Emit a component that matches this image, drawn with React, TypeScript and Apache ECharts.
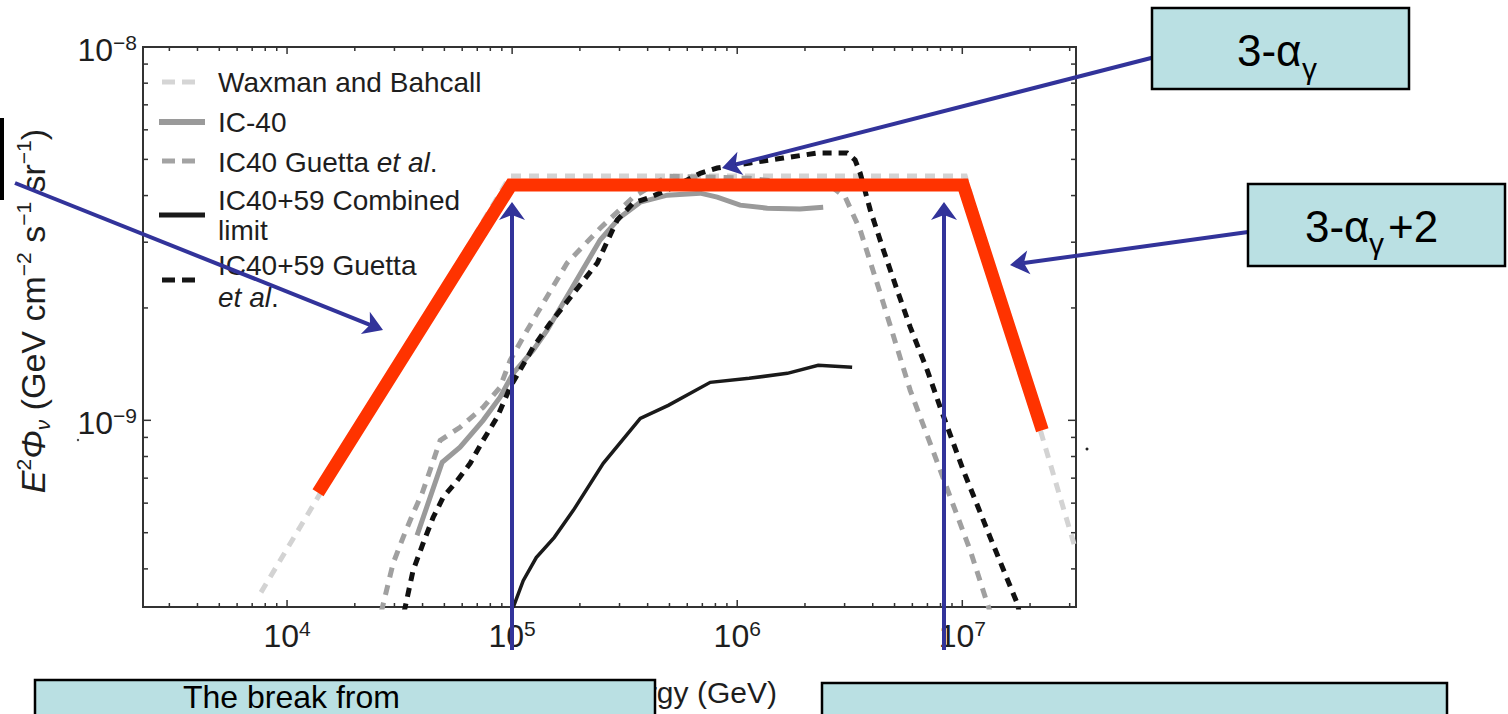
import React, { useEffect, useRef } from "react";
import * as echarts from "echarts";

const FONT = "'Liberation Sans', Arial, Helvetica, sans-serif";

// Axis extents (log scales)
const X_MIN = 2291;
const X_MAX = 3.2e7;
const Y_MIN = 3.162e-10;
const Y_MAX = 1e-8;

// Tick positions
const xMajorTicks = [1e4, 1e5, 1e6, 1e7];
const xMinorTicks = [
  3e3, 4e3, 5e3, 6e3, 7e3, 8e3, 9e3,
  2e4, 3e4, 4e4, 5e4, 6e4, 7e4, 8e4, 9e4,
  2e5, 3e5, 4e5, 5e5, 6e5, 7e5, 8e5, 9e5,
  2e6, 3e6, 4e6, 5e6, 6e6, 7e6, 8e6, 9e6,
  2e7, 3e7,
];
const yMajorTicks = [1e-9, 1e-8];
const yMinorTicks = [
  4e-10, 5e-10, 6e-10, 7e-10, 8e-10, 9e-10,
  2e-9, 3e-9, 4e-9, 5e-9, 6e-9, 7e-9, 8e-9, 9e-9,
];

// E^2 flux curves: [energy (GeV), E^2 Phi (GeV cm^-2 s^-1 sr^-1)]
const waxmanBahcall: [number, number][] = [
  [7660, 3.46e-10], [9.8e4, 4.51e-9], [1.03e7, 4.51e-9], [3.2e7, 4.47e-10],
];

const ic40Limit: [number, number][] = [
  [3.78e4, 4.92e-10], [4.89e4, 7.72e-10], [5.87e4, 8.47e-10], [7.43e4, 1.0e-9],
  [8.84e4, 1.153e-9], [1.01e5, 1.336e-9], [1.24e5, 1.541e-9], [1.431e5, 1.743e-9],
  [2.46e5, 3.04e-9], [3.02e5, 3.5e-9], [3.71e5, 3.84e-9], [4.89e5, 4.01e-9],
  [6.85e5, 4.06e-9], [8.15e5, 3.96e-9], [1.03e6, 3.77e-9], [1.36e6, 3.7e-9],
  [1.9e6, 3.68e-9], [2.41e6, 3.72e-9],
];

const ic40Guetta: [number, number][] = [
  [2.62e4, 3.06e-10], [2.96e4, 4.14e-10], [3.28e4, 4.86e-10], [3.63e4, 5.63e-10],
  [3.98e4, 6.37e-10], [4.32e4, 7.35e-10], [4.79e4, 8.84e-10], [5.87e4, 9.58e-10],
  [7.43e4, 1.083e-9], [8.84e4, 1.226e-9], [9.8e4, 1.448e-9], [1.166e5, 1.743e-9],
  [1.755e5, 2.64e-9], [2.46e5, 3.27e-9], [3.45e5, 3.96e-9], [4.89e5, 4.51e-9],
  [1.14e6, 4.45e-9], [2.67e6, 4.19e-9], [3.02e6, 3.96e-9], [3.52e6, 3.23e-9],
  [4.32e6, 2.19e-9], [5.87e6, 1.203e-9], [7.98e6, 7.35e-10], [1.085e7, 4.48e-10],
  [1.33e7, 3.06e-10],
];

const ic4059Guetta: [number, number][] = [
  [3.31e4, 3.06e-10], [3.63e4, 3.96e-10], [4.02e4, 4.68e-10], [4.46e4, 5.5e-10],
  [4.94e4, 6.22e-10], [5.7e4, 6.9e-10], [6.51e4, 7.67e-10], [7.43e4, 8.84e-10],
  [8.58e4, 1.019e-9], [9.8e4, 1.226e-9], [1.24e5, 1.569e-9], [1.475e5, 1.82e-9],
  [2.39e5, 2.64e-9], [2.93e5, 3.44e-9], [3.45e5, 3.82e-9], [4.11e5, 3.96e-9],
  [5.19e5, 4.21e-9], [6.85e5, 4.59e-9], [8.15e5, 4.74e-9], [1.14e6, 4.89e-9],
  [1.6e6, 5.04e-9], [2.27e6, 5.2e-9], [3.08e6, 5.2e-9], [3.34e6, 4.98e-9],
  [3.52e6, 4.59e-9], [3.9e6, 3.66e-9], [4.46e6, 2.86e-9], [5.14e6, 2.23e-9],
  [5.87e6, 1.776e-9], [6.99e6, 1.361e-9], [7.98e6, 1.083e-9], [1.01e7, 7.35e-10],
  [1.33e7, 4.86e-10], [1.755e7, 3.23e-10], [1.79e7, 3.06e-10],
];

const ic4059Combined: [number, number][] = [
  [1.01e5, 3.15e-10], [1.12e5, 3.72e-10], [1.28e5, 4.29e-10], [1.54e5, 4.86e-10],
  [1.87e5, 5.74e-10], [2.54e5, 7.67e-10], [3.71e5, 1.012e-9], [4.94e5, 1.097e-9],
  [7.59e5, 1.264e-9], [1.13e6, 1.296e-9], [1.67e6, 1.336e-9], [2.29e6, 1.404e-9],
  [3.24e6, 1.387e-9],
];

// Broken power-law sketch: rising, flat, steep fall
const brokenPowerLaw: [number, number][] = [
  [1.373e4, 6.4e-10], [9.9e4, 4.27e-9], [1.01e7, 4.27e-9], [2.267e7, 9.4e-10],
];

const isDecade = (v: number) => {
  const e = Math.log10(v);
  return Math.abs(e - Math.round(e)) < 1e-6;
};

const expLabel = (v: number) => {
  if (!isDecade(v)) return "";
  const e = Math.round(Math.log10(v));
  return `{b|10}{s|${e < 0 ? "\u2212" + -e : e}}`;
};

const BLUE = "#32339a";
const TEAL = "#bae0e3";

function arrow(x1: number, y1: number, x2: number, y2: number, headLen: number, headHalf: number) {
  const dx = x2 - x1;
  const dy = y2 - y1;
  const L = Math.hypot(dx, dy);
  const ux = dx / L;
  const uy = dy / L;
  const bx = x2 - ux * headLen;
  const by = y2 - uy * headLen;
  const px = -uy;
  const py = ux;
  return [
    {
      type: "line",
      z: 100,
      shape: { x1, y1, x2: bx + ux * 3, y2: by + uy * 3 },
      style: { stroke: BLUE, lineWidth: 4 },
    },
    {
      type: "polygon",
      z: 101,
      shape: {
        points: [
          [x2, y2],
          [bx + px * headHalf - ux * 2, by + py * headHalf - uy * 2],
          [bx + ux * 3, by + uy * 3],
          [bx - px * headHalf - ux * 2, by - py * headHalf - uy * 2],
        ],
      },
      style: { fill: BLUE },
    },
  ];
}

function tickSeries(axis: "x" | "y", values: number[]) {
  return {
    type: "custom",
    coordinateSystem: "cartesian2d",
    silent: true,
    clip: false,
    z: 4,
    data: values.map((v) => (axis === "x" ? [v, Y_MIN] : [X_MIN, v])),
    encode: { x: 0, y: 1 },
    renderItem: (_params: any, api: any) => {
      const v = axis === "x" ? api.value(0) : api.value(1);
      const major = isDecade(v);
      const style = { stroke: "#333", lineWidth: 1.5 };
      if (axis === "x") {
        const len = major ? 7 : 4;
        const b = api.coord([v, Y_MIN]);
        const t = api.coord([v, Y_MAX]);
        return {
          type: "group",
          children: [
            { type: "line", shape: { x1: b[0], y1: b[1], x2: b[0], y2: b[1] - len }, style },
            { type: "line", shape: { x1: t[0], y1: t[1], x2: t[0], y2: t[1] + len }, style },
          ],
        };
      }
      const len = major ? 8 : 5;
      const l = api.coord([X_MIN, v]);
      const r = api.coord([X_MAX, v]);
      return {
        type: "group",
        children: [
          { type: "line", shape: { x1: l[0], y1: l[1], x2: l[0] + len, y2: l[1] }, style },
          { type: "line", shape: { x1: r[0], y1: r[1], x2: r[0] - len, y2: r[1] }, style },
        ],
      };
    },
  };
}

function lineSeries(name: string, data: [number, number][], color: string, width: number, dash?: number[], z = 2) {
  return {
    type: "line",
    name,
    data,
    symbol: "none",
    showSymbol: false,
    silent: true,
    clip: true,
    z,
    lineStyle: { color, width, type: dash ? dash : "solid", cap: "butt", join: "miter" },
  };
}

const textBase = { fontFamily: FONT, fill: "#1e1e1e" };

function legendGraphics() {
  const items: any[] = [];
  const sym = (y: number, color: string, dash: boolean, width: number) =>
    items.push({
      type: "line",
      z: 50,
      shape: dash ? { x1: 162, y1: y, x2: 195, y2: y } : { x1: 159, y1: y, x2: 205, y2: y },
      style: { stroke: color, lineWidth: width, lineDash: dash ? [13, 7] : null },
    });
  const txt = (y: number, text: string) =>
    items.push({
      type: "text",
      z: 50,
      x: 218,
      y,
      style: {
        ...textBase,
        text,
        fontSize: 28,
        align: "left",
        verticalAlign: "middle",
        rich: { i: { ...textBase, fontSize: 28, fontStyle: "italic" } },
      },
    });
  sym(82, "#d5d5d5", true, 5);
  txt(82, "Waxman and Bahcall");
  sym(122, "#9a9a9a", false, 6);
  txt(122, "IC-40");
  sym(161, "#a3a3a3", true, 5);
  txt(162, "IC40 Guetta {i|et al}.");
  sym(215, "#1a1a1a", false, 5);
  txt(200, "IC40+59 Combined");
  txt(230, "limit");
  sym(280, "#151515", true, 5);
  txt(265, "IC40+59 Guetta");
  txt(297, "{i|et al}.");
  return items;
}

function annotationGraphics() {
  const g: any[] = [];
  // axis titles
  g.push({
    type: "text",
    z: 40,
    x: 33,
    y: 311,
    rotation: Math.PI / 2,
    style: {
      ...textBase,
      text: "{i|E}{sup|2}{i|\u03a6}{sub|\u03bd}{n| (GeV cm}{sup|\u22122}{n| s}{sup|\u22121}{n| sr}{sup|\u22121}{n|)}",
      align: "center",
      verticalAlign: "middle",
      rich: {
        i: { ...textBase, fontSize: 34, fontStyle: "italic", lineHeight: 40 },
        n: { ...textBase, fontSize: 34, lineHeight: 40 },
        sup: { ...textBase, fontSize: 21, lineHeight: 21, verticalAlign: "top" },
        sub: { ...textBase, fontSize: 21, fontStyle: "italic", lineHeight: 14, verticalAlign: "bottom" },
      },
    },
  });
  g.push({
    type: "text",
    z: 40,
    x: 626,
    y: 692,
    style: { ...textBase, text: "Neutrino energy (GeV)", fontSize: 30, align: "center", verticalAlign: "middle" },
  });

  // stray marks
  g.push({ type: "rect", z: 40, shape: { x: 0, y: 118, width: 4, height: 82 }, style: { fill: "#000" } });
  g.push({ type: "circle", z: 40, shape: { cx: 1087, cy: 449, r: 1.5 }, style: { fill: "#222" } });
  g.push({ type: "circle", z: 40, shape: { cx: 78, cy: 440, r: 1.2 }, style: { fill: "#444" } });

  // arrows
  g.push(...arrow(15, 183, 383, 330, 17, 12));
  g.push(...arrow(1155, 57, 722, 168, 17, 12));
  g.push(...arrow(1248, 232, 1010, 265, 17, 12));
  g.push(...arrow(512, 650, 512, 202, 16, 13));
  g.push(...arrow(944, 650, 944, 202, 16, 13));

  // boxes
  const box = (x: number, y: number, w: number, h: number) =>
    g.push({
      type: "rect",
      z: 110,
      shape: { x, y, width: w, height: h },
      style: { fill: TEAL, stroke: "#000", lineWidth: 2.5 },
    });
  const t = (x: number, y: number, text: string, size: number) =>
    g.push({
      type: "text",
      z: 111,
      x,
      y,
      style: { ...textBase, fill: "#000", text, fontSize: size, align: "left", verticalAlign: "middle" },
    });

  box(1152, 8, 257, 81);
  t(1237, 50, "3-\u03b1", 44);
  t(1302, 68, "\u03b3", 30);

  box(1248, 184, 257, 82);
  t(1305, 226, "3-\u03b1", 44);
  t(1369, 243, "\u03b3", 30);
  t(1388, 226, "+2", 44);

  box(35, 680, 620, 80);
  t(183, 697, "The break from", 32);

  box(822, 683, 625, 80);
  return g;
}

export default function App() {
  const ref = useRef<HTMLDivElement>(null);

  useEffect(() => {
    if (!ref.current) return;
    const chart = echarts.init(ref.current, undefined, { renderer: "svg" });
    const labelRich = {
      b: { fontSize: 32, lineHeight: 36, fontFamily: FONT, color: "#1e1e1e" },
      s: { fontSize: 21, lineHeight: 21, verticalAlign: "top", fontFamily: FONT, color: "#1e1e1e" },
    };
    chart.setOption({
      animation: false,
      backgroundColor: "#ffffff",
      grid: {
        left: 143,
        top: 47,
        width: 933,
        height: 560,
        show: true,
        borderColor: "#333",
        borderWidth: 2,
        backgroundColor: "transparent",
      },
      xAxis: {
        type: "log",
        logBase: 10,
        min: X_MIN,
        max: X_MAX,
        axisLine: { show: false },
        axisTick: { show: false },
        splitLine: { show: false },
        minorTick: { show: false },
        axisLabel: { margin: 11, formatter: expLabel, rich: labelRich },
      },
      yAxis: {
        type: "log",
        logBase: 10,
        min: Y_MIN,
        max: Y_MAX,
        axisLine: { show: false },
        axisTick: { show: false },
        splitLine: { show: false },
        minorTick: { show: false },
        axisLabel: { margin: 6, padding: [5, 0, 0, 0], formatter: expLabel, rich: labelRich },
      },
      series: [
        lineSeries("Waxman and Bahcall", waxmanBahcall, "#d3d3d3", 5, [10, 8], 2),
        lineSeries("IC40 Guetta et al.", ic40Guetta, "#a0a0a0", 5, [10, 8], 3),
        lineSeries("IC-40", ic40Limit, "#9a9a9a", 5, undefined, 3),
        lineSeries("IC40+59 Combined limit", ic4059Combined, "#1a1a1a", 3.5, undefined, 3),
        lineSeries("IC40+59 Guetta et al.", ic4059Guetta, "#111111", 5, [9, 7], 3),
        lineSeries("Broken power law", brokenPowerLaw, "#ff3300", 13, undefined, 10),
        tickSeries("x", [...xMajorTicks, ...xMinorTicks]),
        tickSeries("y", [...yMajorTicks, ...yMinorTicks]),
      ],
      graphic: [...legendGraphics(), ...annotationGraphics()],
    });
    return () => chart.dispose();
  }, []);

  return (
    <div
      ref={ref}
      style={{ position: "fixed", left: 0, top: 0, width: 1508, height: 714, background: "#fff" }}
    />
  );
}
